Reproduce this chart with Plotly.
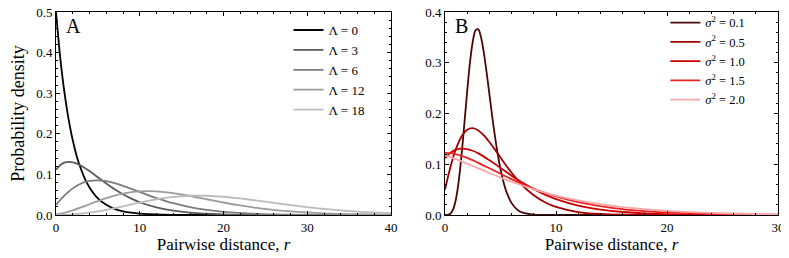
import plotly.graph_objects as go

# ---------------- Panel A data ----------------
r_L0 = [0, 0.5, 1, 1.5, 2, 2.5, 3, 3.5, 4, 5, 6, 7, 8, 9, 10, 12, 14, 17, 20, 25, 30, 40]
y_L0 = [0.5, 0.389, 0.303, 0.236, 0.184, 0.143, 0.112, 0.087, 0.068, 0.041, 0.025, 0.015,
        0.0092, 0.0056, 0.0034, 0.0012, 0.0005, 0.0001, 0, 0, 0, 0]

r_L3 = [0, 0.5, 1, 1.5, 2, 2.5, 3, 4, 5, 6, 7, 8, 9, 10, 12, 14, 16, 20, 25, 30, 40]
y_L3 = [0.1116, 0.1227, 0.1288, 0.1309, 0.1299, 0.1266, 0.1215, 0.1081, 0.0928, 0.0775,
        0.0633, 0.0509, 0.0402, 0.0314, 0.0186, 0.0106, 0.0059, 0.0017, 0.0003, 0.0001, 0]

r_L6 = [0, 0.5, 1, 1.5, 2, 3, 4, 5, 6, 7, 8, 9, 10, 11, 12, 14, 16, 18, 20, 24, 28, 32, 40]
y_L6 = [0.0249, 0.0369, 0.0478, 0.0574, 0.0656, 0.0775, 0.0839, 0.0855, 0.0833, 0.0785,
        0.0719, 0.0644, 0.0566, 0.0488, 0.0416, 0.0290, 0.0194, 0.0126, 0.0079, 0.0029,
        0.0010, 0.0003, 0]

r_L12 = [0, 0.5, 1, 2, 3, 4, 5, 6, 7, 8, 9, 10, 11, 12, 14, 16, 18, 20, 22, 24, 26, 28,
         30, 32, 34, 36, 40]
y_L12 = [0.0012, 0.0031, 0.0054, 0.0114, 0.0186, 0.0265, 0.0343, 0.0416, 0.0478, 0.0528,
         0.0562, 0.0583, 0.0589, 0.0582, 0.0538, 0.0468, 0.0388, 0.0308, 0.0235, 0.0174,
         0.0126, 0.0088, 0.0061, 0.0041, 0.0027, 0.0018, 0.0007]

r_L18 = [0, 1, 2, 3, 4, 5, 6, 7, 8, 9, 10, 11, 12, 14, 16, 18, 20, 22, 24, 26, 28, 30,
         32, 34, 36, 38, 40]
y_L18 = [0.0001, 0.0005, 0.0015, 0.0032, 0.0056, 0.0088, 0.0126, 0.0168, 0.0214, 0.0261,
         0.0307, 0.0350, 0.0388, 0.0446, 0.0474, 0.0474, 0.0449, 0.0407, 0.0355, 0.0299,
         0.0244, 0.0194, 0.0151, 0.0114, 0.0085, 0.0062, 0.0044]

labels_A = ["Λ = 0", "Λ = 3", "Λ = 6", "Λ = 12", "Λ = 18"]
colors_A = ["#000000", "#5c5c5c", "#7c7c7c", "#9c9c9c", "#bcbcbc"]

# ---------------- Panel B data ----------------
r_s01 = [0, 0.25, 0.5, 0.75, 1, 1.25, 1.5, 1.75, 2, 2.25, 2.5, 2.75, 3, 3.25, 3.5, 3.75,
         4, 4.25, 4.5, 4.75, 5, 5.25, 5.5, 6, 6.5, 7, 8, 9, 10, 30]
y_s01 = [0, 0.0003, 0.0030, 0.0122, 0.0331, 0.0693, 0.1203, 0.1814, 0.2445, 0.3006,
         0.3418, 0.3639, 0.3658, 0.3496, 0.3196, 0.2806, 0.2376, 0.1946, 0.1548, 0.1197,
         0.0903, 0.0665, 0.0479, 0.0234, 0.0107, 0.0045, 0.0007, 0.0001, 0, 0]

r_s05 = [0, 0.25, 0.5, 0.75, 1, 1.5, 2, 2.5, 3, 3.5, 4, 4.5, 5, 5.5, 6, 7, 8, 9, 10, 12,
         14, 16, 20, 30]
y_s05 = [0.0498, 0.0738, 0.0956, 0.1148, 0.1312, 0.1550, 0.1678, 0.1710, 0.1666, 0.1570,
         0.1438, 0.1288, 0.1132, 0.0976, 0.0832, 0.0580, 0.0388, 0.0251, 0.0158, 0.0058,
         0.0020, 0.0006, 0.0001, 0]

r_s10 = [0, 0.5, 1, 1.5, 2, 2.5, 3, 4, 5, 6, 7, 8, 9, 10, 12, 14, 16, 20, 25, 30]
y_s10 = [0.1116, 0.1227, 0.1288, 0.1309, 0.1299, 0.1266, 0.1215, 0.1081, 0.0928, 0.0775,
         0.0633, 0.0509, 0.0402, 0.0314, 0.0186, 0.0106, 0.0059, 0.0017, 0.0003, 0.0001]

r_s15 = [0, 0.5, 1, 1.5, 2, 3, 4, 5, 6, 7, 8, 10, 12, 15, 18, 21, 24, 27, 30]
y_s15 = [0.1226, 0.1218, 0.1197, 0.1165, 0.1125, 0.1028, 0.0921, 0.0812, 0.0706, 0.0607,
         0.0517, 0.0367, 0.0254, 0.0141, 0.0076, 0.0040, 0.0020, 0.0010, 0.0005]

r_s20 = [0, 1, 2, 3, 4, 5, 6, 8, 10, 12, 14, 16, 20, 24, 28, 30]
y_s20 = [0.1181, 0.1100, 0.1011, 0.0919, 0.0827, 0.0738, 0.0655, 0.0506, 0.0384, 0.0287,
         0.0212, 0.0155, 0.0081, 0.0041, 0.0020, 0.0014]

labels_B = ["<i>σ</i><sup>2</sup> = 0.1", "<i>σ</i><sup>2</sup> = 0.5",
            "<i>σ</i><sup>2</sup> = 1.0", "<i>σ</i><sup>2</sup> = 1.5",
            "<i>σ</i><sup>2</sup> = 2.0"]
colors_B = ["#4a0808", "#a00000", "#cc0000", "#f02020", "#f8a8a8"]

xticks_A = [0, 10, 20, 30, 40]
yticks_A = [0.0, 0.1, 0.2, 0.3, 0.4, 0.5]
xticks_B = [0, 10, 20, 30]
yticks_B = [0.0, 0.1, 0.2, 0.3, 0.4]

FONT = "'Liberation Serif', 'Times New Roman', serif"

fig = go.Figure()
series_A = [(r_L0, y_L0), (r_L3, y_L3), (r_L6, y_L6), (r_L12, y_L12), (r_L18, y_L18)]
for (xs, ys), lab, col in zip(series_A, labels_A, colors_A):
    fig.add_trace(go.Scatter(x=xs, y=ys, mode="lines", name=lab,
                             line=dict(color=col, width=1.8, shape="spline", smoothing=0.8),
                             xaxis="x", yaxis="y", legend="legend"))
series_B = [(r_s01, y_s01), (r_s05, y_s05), (r_s10, y_s10), (r_s15, y_s15), (r_s20, y_s20)]
for (xs, ys), lab, col in zip(series_B, labels_B, colors_B):
    fig.add_trace(go.Scatter(x=xs, y=ys, mode="lines", name=lab,
                             line=dict(color=col, width=1.8, shape="spline", smoothing=0.8),
                             xaxis="x2", yaxis="y2", legend="legend2"))

def ax(**kw):
    d = dict(showline=True, linecolor="black", linewidth=1, mirror="allticks",
             ticks="inside", ticklen=4, tickcolor="black", tickwidth=1,
             showgrid=False, zeroline=False, automargin=False, ticklabeloverflow="allow",
             tickfont=dict(family=FONT, size=13, color="black"))
    d.update(kw)
    return d

def minor(dt):
    return dict(ticks="inside", ticklen=2, tickcolor="black", dtick=dt, tick0=0, showgrid=False)

xtitle = dict(text="Pairwise distance, <i>r</i>", font=dict(family=FONT, size=17, color="black"),
              standoff=3)
# the page body adds an 8px offset; the figure is sized to fill the 789x258 window
fig.update_layout(
    width=781, height=250,
    margin=dict(l=48, r=11, t=4, b=43, autoexpand=False),
    plot_bgcolor="white", paper_bgcolor="white",
    xaxis=ax(domain=[0, 0.464], range=[0, 40], tickvals=xticks_A, anchor="y",
             minor=minor(2), title=xtitle),
    yaxis=ax(domain=[0, 1], range=[0, 0.5], tickvals=yticks_A, tickformat=".1f", anchor="x",
             minor=minor(0.02),
             title=dict(text="Probability density", font=dict(family=FONT, size=18, color="black"),
                        standoff=6)),
    xaxis2=ax(domain=[0.5388, 1], range=[0, 30], tickvals=xticks_B, anchor="y2",
              minor=minor(2), title=xtitle),
    yaxis2=ax(domain=[0, 1], range=[0, 0.4], tickvals=yticks_B, tickformat=".1f", anchor="x2",
              minor=minor(0.02)),
    legend=dict(x=0.322, y=0.985, xanchor="left", yanchor="top", bgcolor="rgba(0,0,0,0)",
                font=dict(family=FONT, size=13, color="black"), tracegroupgap=0),
    legend2=dict(x=0.844, y=1.02, xanchor="left", yanchor="top", bgcolor="rgba(0,0,0,0)",
                 font=dict(family=FONT, size=12.5, color="black"), tracegroupgap=0),
    annotations=[
        dict(text="A", xref="x domain", yref="y domain", x=0.025, y=0.995, xanchor="left",
             yanchor="top", showarrow=False, font=dict(family=FONT, size=20, color="black")),
        dict(text="B", xref="x2 domain", yref="y2 domain", x=0.025, y=0.995, xanchor="left",
             yanchor="top", showarrow=False, font=dict(family=FONT, size=20, color="black")),
    ],
    showlegend=True,
)

fig.write_html("out.html")
